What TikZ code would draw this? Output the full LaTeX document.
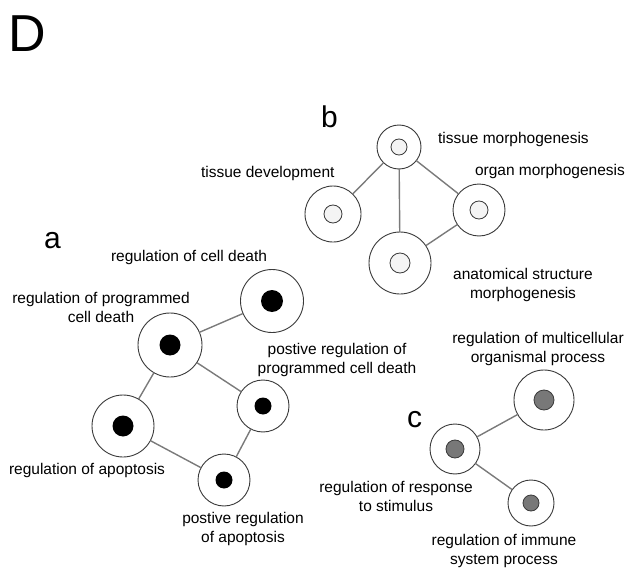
\documentclass[tikz,border=0pt]{standalone}
\usepackage{fontspec}
\setmainfont{Liberation Sans}
\usetikzlibrary{positioning}

\definecolor{ringgray}{HTML}{3A3A3A}
\definecolor{linkgray}{HTML}{7A7A7A}
\definecolor{dotgray}{HTML}{787878}
\definecolor{voidfill}{HTML}{F4F4F4}

\begin{document}
\begin{tikzpicture}[
	x=1pt,
	y=-1pt,
	every node/.style={inner sep=0pt, outer sep=0pt},
	term/.style={circle, draw=ringgray, line width=0.9pt, fill=white},
	hit/.style={circle, fill=black},
	mid/.style={circle, fill=dotgray, draw=ringgray, line width=0.8pt},
	void/.style={circle, fill=voidfill, draw=ringgray, line width=0.8pt},
	link/.style={draw=linkgray, line width=1.4pt},
	tag/.style={font=\fontsize{15.5}{18.5}\selectfont, align=center, anchor=base},
	panel/.style={font=\fontsize{30}{30}\selectfont, anchor=base west}
]

\useasboundingbox (0,0) rectangle (633,570);

\node [font=\fontsize{52}{52}\selectfont, anchor=base west] (D) at (9,52) {D};

% a
\node [panel] (a) at (44,248) {a};
\node [term, minimum size=63pt] (a_1) at (272,301) {};
\node [term, minimum size=64pt] (a_2) at (170,345) {};
\node [term, minimum size=52pt] (a_3) at (263,406) {};
\node [term, minimum size=62pt] (a_4) at (123,426) {};
\node [term, minimum size=52pt] (a_5) at (224,480) {};
\node [hit, minimum size=22pt] (a_1c) at (a_1) {};
\node [hit, minimum size=21pt] (a_2c) at (a_2) {};
\node [hit, minimum size=17pt] (a_3c) at (a_3) {};
\node [hit, minimum size=21pt] (a_4c) at (a_4) {};
\node [hit, minimum size=17pt] (a_5c) at (a_5) {};

% two-line tags sit on their last baseline
\node [tag] (a_1t) at (189,261) {regulation of cell death};
\node [tag] (a_2t) at (101,322) {regulation of programmed\\cell death};
\node [tag] (a_3t) at (337,373) {postive regulation of\\programmed cell death};
\node [tag] (a_4t) at (87,474)  {regulation of apoptosis};
\node [tag] (a_5t) at (243,542) {postive regulation\\of apoptosis};

\path (a_2) edge [link] (a_1)
            edge [link] (a_3)
            edge [link] (a_4)
      (a_5) edge [link] (a_3)
            edge [link] (a_4);

% b
\node [panel] (b) at (321,127) {b};
\node [term, minimum size=44pt] (b_1) at (399,147) {};
\node [term, minimum size=56pt] (b_2) at (333,214) {};
\node [term, minimum size=52pt] (b_3) at (479,210) {};
\node [term, minimum size=62pt] (b_4) at (400,263) {};
\node [void, minimum size=16pt] (b_1c) at (b_1) {};
\node [void, minimum size=18pt] (b_2c) at (b_2) {};
\node [void, minimum size=18pt] (b_3c) at (b_3) {};
\node [void, minimum size=20pt] (b_4c) at (b_4) {};

\node [tag, anchor=base west] (b_1t) at (438,143) {tissue morphogenesis};
\node [tag, anchor=base west] (b_2t) at (201,177) {tissue development};
\node [tag, anchor=base west] (b_3t) at (475,175) {organ morphogenesis};
\node [tag] (b_4t) at (523,298) {anatomical structure\\morphogenesis};

\path (b_1) edge [link] (b_2)
            edge [link] (b_3)
            edge [link] (b_4)
      (b_3) edge [link] (b_4);

% c
\node [panel] (c) at (407,427) {c};
\node [term, minimum size=50pt] (c_1) at (455,449) {};
\node [term, minimum size=60pt] (c_2) at (544,400) {};
\node [term, minimum size=46pt] (c_3) at (531,503) {};
\node [mid, minimum size=18pt] (c_1c) at (c_1) {};
\node [mid, minimum size=20pt] (c_2c) at (c_2) {};
\node [mid, minimum size=16pt] (c_3c) at (c_3) {};

\node [tag] (c_1t) at (396,511) {regulation of response\\to stimulus};
\node [tag] (c_2t) at (538,362) {regulation of multicellular\\organismal process};
\node [tag] (c_3t) at (504,564) {regulation of immune\\system process};

\path (c_1) edge [link] (c_2)
            edge [link] (c_3);

\end{tikzpicture}
\end{document}
